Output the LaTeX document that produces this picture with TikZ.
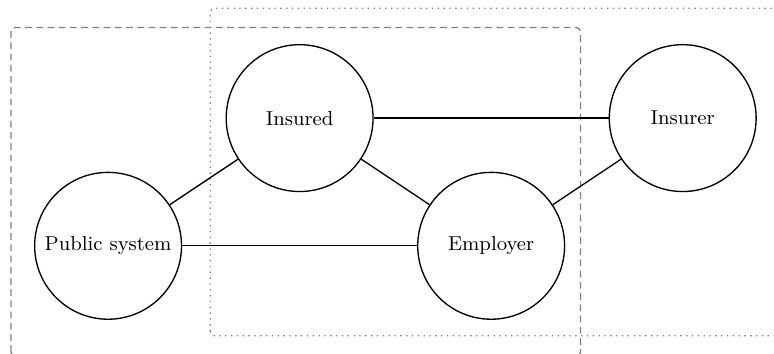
\documentclass[tikz,border=0pt]{standalone}
\usetikzlibrary{positioning}
\tikzstyle{party} = [draw, semithick, circle, minimum size=2.3cm, inner sep=2pt, font=\small]
\tikzstyle{link} = [semithick]
\tikzstyle{group} = [draw=black!50, semithick, rounded corners=2pt]
\begin{document}
\begin{tikzpicture}
    \useasboundingbox (-1.693,-1.693) rectangle (10.43,3.85);

    % Groups.
    \draw [group, densely dashed] (-1.52,-1.735) rectangle (7.4,3.42);
    \draw [group, dotted] (1.6,-1.41) rectangle (10.8,3.72);

    \node (public) [party] at (0,0) {Public system};
    \node (insured) [party] at (3,2) {Insured};
    \node (employer) [party] at (6,0) {Employer};
    \node (insurer) [party] at (9,2) {Insurer};

    % Links.
    \draw [link] (public) -- (insured);
    \draw [link] (public) -- (employer);
    \draw [link] (insured) -- (employer);
    \draw [link] (insured) -- (insurer);
    \draw [link] (employer) -- (insurer);
\end{tikzpicture}
\end{document}
